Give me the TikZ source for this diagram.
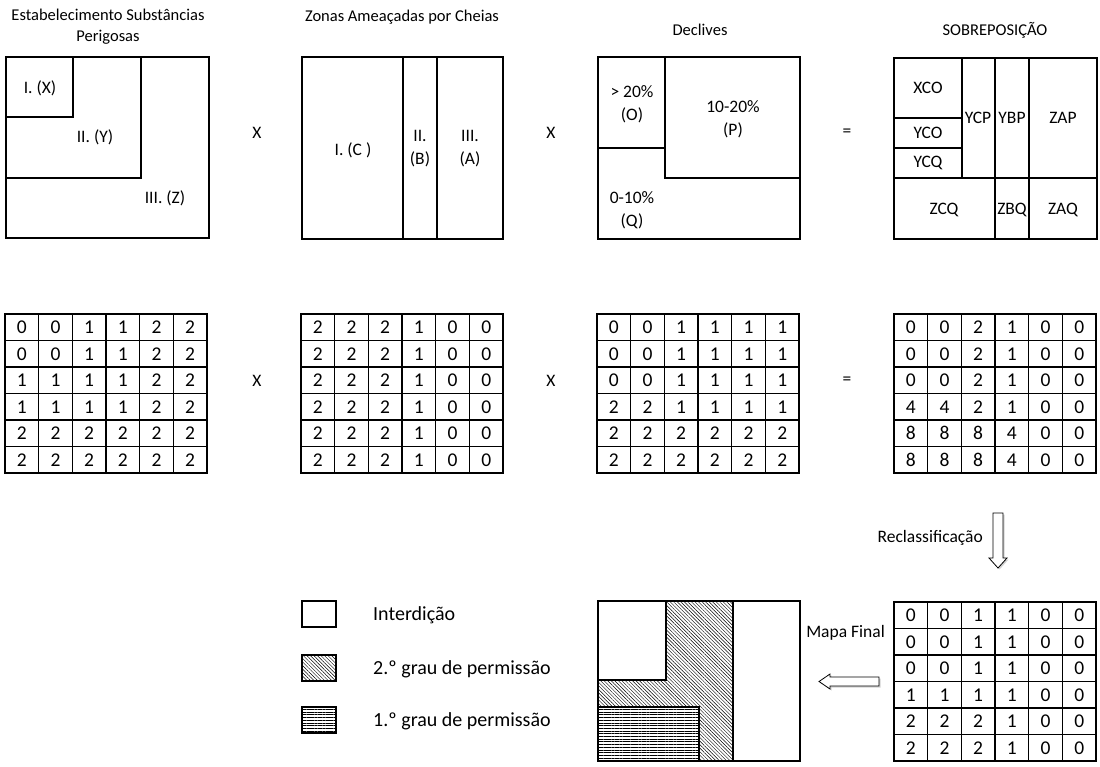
\documentclass[tikz,border=0pt]{standalone}
\usepackage{fontspec}
\setmainfont{Carlito}
\usetikzlibrary{patterns.meta,shadows}
\begin{document}
\begin{tikzpicture}[x=1pt,y=-1pt,
  box/.style={draw,line width=1.4pt},
  lbl/.style={font=\fontsize{17.5}{23}\selectfont,inner sep=0pt,align=center},
  ttl/.style={font=\fontsize{16.5}{21}\selectfont,inner sep=0pt,align=center},
  leg/.style={font=\fontsize{20}{24}\selectfont,inner sep=0pt,anchor=west},
  cell/.style={draw,line width=1.3pt,minimum width=33.67pt,minimum height=26.5pt,inner sep=0pt,anchor=center,font=\fontsize{19.5}{22}\selectfont},
  blockarrow/.style={draw,line width=0.8pt,fill=white,drop shadow={shadow xshift=1.5pt,shadow yshift=-1.5pt,opacity=0.35}},
  diag/.style={pattern={Lines[angle=-45,distance=2.5pt,line width=0.45pt]}},
  horiz/.style={pattern={Lines[angle=0,distance=2.7pt,line width=0.5pt]}}
]
\useasboundingbox (0,0) rectangle (1100,766);
\fill[white] (0,0) rectangle (1100,766);

% titles
\node[ttl] (t1) at (108,27) {Estabelecimento Substâncias\\Perigosas};
\node[ttl] (t2) at (402,17) {Zonas Ameaçadas por Cheias};
\node[ttl] (t3) at (700,30) {Declives};
\node[ttl] (t4) at (995,30) {SOBREPOSIÇÃO};

% box 1
\draw[box] (6,57) rectangle (209,238);
\draw[box] (6,117) -- (73,117) -- (73,57);
\draw[box] (6,178) -- (141,178) -- (141,57);
\node[lbl] (x1) at (40,88) {I. (X)};
\node[lbl] (y1) at (95,137) {II. (Y)};
\node[lbl] (z1) at (165,198) {III. (Z)};

% box 2
\draw[box] (302,57) rectangle (503,239);
\draw[box] (403,57) -- (403,239);
\draw[box] (437,57) -- (437,239);
\node[lbl] (c2) at (353,150) {I. (C )};
\node[lbl] (b2) at (420,149) {II.\\(B)};
\node[lbl] (a2) at (470,149) {III.\\(A)};

% box 3
\draw[box] (598,57) rectangle (800,239);
\draw[box] (598,148) -- (665,148) -- (665,57);
\draw[box] (665,148) -- (665,178) -- (800,178);
\node[lbl] (o3) at (632,104) {> 20\%\\(O)};
\node[lbl] (p3) at (733,119) {10-20\%\\(P)};
\node[lbl] (q3) at (632,210) {0-10\%\\(Q)};

% box 4
\draw[box] (894,58) rectangle (1097,239);
\draw[box] (962,58) -- (962,178);
\draw[box] (995,58) -- (995,239);
\draw[box] (1029,58) -- (1029,239);
\draw[box] (894,118) -- (962,118);
\draw[box] (894,148) -- (962,148);
\draw[box] (894,178) -- (1097,178);
\node[lbl] (xco) at (928,88) {XCO};
\node[lbl] (yco) at (928,133) {YCO};
\node[lbl] (ycq) at (928,163) {YCQ};
\node[lbl] (ycp) at (978,118) {YCP};
\node[lbl] (ybp) at (1012,118) {YBP};
\node[lbl] (zap) at (1063,118) {ZAP};
\node[lbl] (zcq) at (944,210) {ZCQ};
\node[lbl] (zbq) at (1012,210) {ZBQ};
\node[lbl] (zaq) at (1063,210) {ZAQ};

% operators
\node[lbl] (op1) at (257,133) {X};
\node[lbl] (op2) at (551,133) {X};
\node[lbl] (op3) at (847,133) {=};
\node[lbl] (op4) at (257,381) {X};
\node[lbl] (op5) at (551,381) {X};
\node[lbl] (op6) at (847,381) {=};

% grids
\newcommand\mygrid[4]{%
  \foreach \rowvals [count=\r] in {#4} {
    \foreach \v [count=\c] in \rowvals {
      \node[cell] (#1-\r-\c) at ({#2+(\c-0.5)*33.67},{#3+(\r-0.5)*26.5}) {\v};
    }
  }
}
\mygrid{ga}{5}{314}{{0,0,1,1,2,2},{0,0,1,1,2,2},{1,1,1,1,2,2},{1,1,1,1,2,2},{2,2,2,2,2,2},{2,2,2,2,2,2}}
\mygrid{gb}{301}{314}{{2,2,2,1,0,0},{2,2,2,1,0,0},{2,2,2,1,0,0},{2,2,2,1,0,0},{2,2,2,1,0,0},{2,2,2,1,0,0}}
\mygrid{gc}{597}{314}{{0,0,1,1,1,1},{0,0,1,1,1,1},{0,0,1,1,1,1},{2,2,1,1,1,1},{2,2,2,2,2,2},{2,2,2,2,2,2}}
\mygrid{gd}{894}{314}{{0,0,2,1,0,0},{0,0,2,1,0,0},{0,0,2,1,0,0},{4,4,2,1,0,0},{8,8,8,4,0,0},{8,8,8,4,0,0}}
\mygrid{ge}{894}{602}{{0,0,1,1,0,0},{0,0,1,1,0,0},{0,0,1,1,0,0},{1,1,1,1,0,0},{2,2,2,1,0,0},{2,2,2,1,0,0}}

% Reclassificacao arrow
\node[lbl,anchor=east] (rec) at (983,538) {Reclassificação};
\draw[blockarrow] (993,513) -- (1003,513) -- (1003,558) -- (1007,558) -- (998,568) -- (989,558) -- (993,558) -- cycle;

% Mapa final arrow
\node[lbl,anchor=east] (mf) at (885,633) {Mapa Final};
\draw[blockarrow] (879,677) -- (830,677) -- (830,674) -- (819,681.5) -- (830,689) -- (830,686) -- (879,686) -- cycle;

% final map
\fill[diag] (666,601) rectangle (733,761);
\fill[diag] (598,680) rectangle (666,707);
\fill[white] (598,707) rectangle (699,761);
\fill[horiz] (598,707) rectangle (699,761);
\draw[box] (598,601) rectangle (800,761);
\draw[box] (598,680) -- (666,680) -- (666,601);
\draw[box] (733,601) -- (733,761);
\draw[box] (598,707) -- (699,707) -- (699,761);

% legend
\draw[box] (302,601) rectangle (336,627);
\fill[diag] (302,655) rectangle (336,681);
\draw[box] (302,655) rectangle (336,681);
\fill[horiz] (302,707) rectangle (336,733);
\draw[box] (302,707) rectangle (336,733);
\node[leg] (l1) at (373,615) {Interdição};
\node[leg] (l2) at (373,669) {2.º grau de permissão};
\node[leg] (l3) at (373,721) {1.º grau de permissão};
\end{tikzpicture}
\end{document}
